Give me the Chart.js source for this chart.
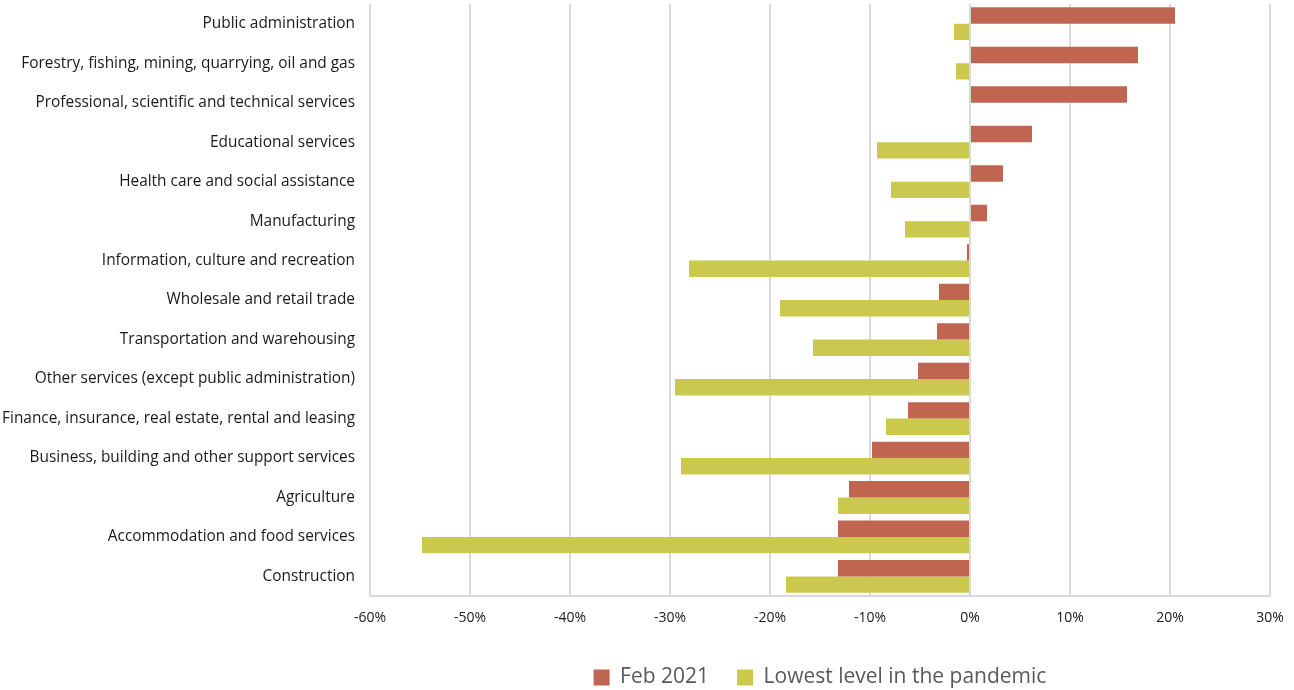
<!DOCTYPE html>
<html>
<head>
<meta charset="utf-8">
<script src="https://cdn.jsdelivr.net/npm/chart.js@4"></script>
<style>
  html, body { margin: 0; padding: 0; background: #fff; }
  #wrap { width: 1294px; height: 690px; }
</style>
</head>
<body>
<div id="wrap"><canvas id="chart"></canvas></div>
<script>
const industries = [
  "Public administration",
  "Forestry, fishing, mining, quarrying, oil and gas",
  "Professional, scientific and technical services",
  "Educational services",
  "Health care and social assistance",
  "Manufacturing",
  "Information, culture and recreation",
  "Wholesale and retail trade",
  "Transportation and warehousing",
  "Other services (except public administration)",
  "Finance, insurance, real estate, rental and leasing",
  "Business, building and other support services",
  "Agriculture",
  "Accommodation and food services",
  "Construction"
];

// percent change vs pre-pandemic level
const feb2021 = [20.5, 16.8, 15.7, 6.2, 3.3, 1.7, -0.3, -3.1, -3.3, -5.2, -6.2, -9.8, -12.1, -13.2, -13.2];
const lowestLevel = [-1.6, -1.4, -0.1, -9.3, -7.9, -6.5, -28.1, -19.0, -15.7, -29.5, -8.4, -28.9, -13.2, -54.8, -18.4];

const seriesNames = ["Feb 2021", "Lowest level in the pandemic"];
const axisMin = -60;
const axisMax = 30;

const ctx = document.getElementById("chart").getContext("2d");

new Chart(ctx, {
  type: "bar",
  data: {
    labels: industries,
    datasets: [
      {
        label: seriesNames[0],
        data: feb2021,
        backgroundColor: "#c0654f",
        borderWidth: 0,
      },
      {
        label: seriesNames[1],
        data: lowestLevel,
        backgroundColor: "#cbc84e",
        borderWidth: 0,
      },
    ],
  },
  options: {
    indexAxis: "y",
    responsive: true,
    maintainAspectRatio: false,
    animation: false,
    datasets: {
      bar: {
        categoryPercentage: 0.83,
        barPercentage: 1.0,
      },
    },
    layout: {
      padding: { top: 4, right: 24, bottom: -8, left: 0 },
    },
    scales: {
      x: {
        min: axisMin,
        max: axisMax,
        grid: {
          color: "#d9d9d9",
          lineWidth: 2,
          drawTicks: false,
        },
        border: { display: true, color: "#d9d9d9", width: 2 },
        ticks: {
          stepSize: 10,
          padding: 13,
          color: "#1a1a1a",
          font: { family: "Open Sans", size: 14 },
          callback: (v) => v + "%",
        },
        afterFit: (scale) => {
          scale.paddingLeft = 0;
          scale.paddingRight = 0;
        },
      },
      y: {
        grid: { display: false, drawTicks: false },
        border: { display: false },
        ticks: {
          padding: 15,
          color: "#1a1a1a",
          font: { family: "Open Sans", size: 15.4 },
        },
        afterFit: (scale) => {
          scale.width = 370;
          // tick padding should not push the plot down
          scale.paddingTop = 0;
          scale.paddingBottom = 0;
        },
      },
    },
    plugins: {
      legend: {
        position: "bottom",
        fullSize: false,
        labels: {
          boxWidth: 16,
          boxHeight: 16,
          padding: 28,
          color: "#595959",
          font: { family: "Open Sans", size: 21 },
        },
      },
      tooltip: { enabled: false },
    },
  },
});
</script>
</body>
</html>
